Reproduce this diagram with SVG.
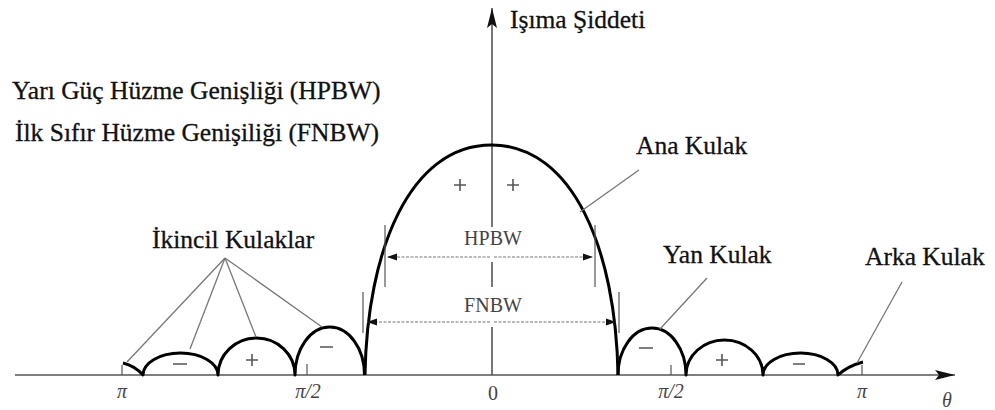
<svg xmlns="http://www.w3.org/2000/svg" width="995" height="410" viewBox="0 0 995 410">
<style>
.lbl{font-family:"Liberation Serif","Times New Roman",serif;font-size:25.5px;fill:#111;stroke:#111;stroke-width:0.3}
.dim{font-family:"Liberation Serif","Times New Roman",serif;font-size:20px;fill:#444;text-anchor:middle}
.tk{font-family:"Liberation Serif","Times New Roman",serif;font-size:20px;font-style:italic;fill:#444;text-anchor:middle}
.axis{stroke:#555;stroke-width:1.6;fill:none}
.curve{stroke:#000;stroke-width:3;fill:none;stroke-linejoin:round}
.lead{stroke:#777;stroke-width:1.3;fill:none}
.dl{stroke:#777;stroke-width:1.1;stroke-dasharray:3 1.5;fill:none}
.tick{stroke:#555;stroke-width:1.2;fill:none}
.sgn{stroke:#555;stroke-width:1.6;fill:none}
</style>
<defs>
<marker id="ah" viewBox="0 0 10 10" refX="10" refY="5" markerWidth="10" markerHeight="10" markerUnits="userSpaceOnUse" orient="auto">
<path d="M0,1.5 L10,5 L0,8.5 Z" fill="#111"/>
</marker>
<marker id="axh" viewBox="0 0 20 10" refX="20" refY="5" markerWidth="20" markerHeight="10" markerUnits="userSpaceOnUse" orient="auto">
<path d="M0,0 L20,5 L0,10 L4,5 Z" fill="#111"/>
</marker>
</defs>
<rect width="995" height="410" fill="#fff"/>

<g id="axes">
<line class="axis" x1="15" y1="375" x2="955" y2="375" marker-end="url(#axh)"/>
<line class="axis" x1="492" y1="375" x2="492" y2="327"/>
<line class="axis" x1="492" y1="287" x2="492" y2="262"/>
<line class="axis" x1="492" y1="227" x2="492" y2="8" marker-end="url(#axh)"/>
<line class="tick" x1="122" y1="375" x2="122" y2="365"/>
<line class="tick" x1="307" y1="375" x2="307" y2="364"/>
<line class="tick" x1="671" y1="375" x2="671" y2="365"/>
<line class="tick" x1="862" y1="375" x2="862" y2="365"/>
</g>

<g id="tick-labels">
<text class="tk" x="122" y="398">π</text>
<text class="tk" x="308" y="398">π/2</text>
<text class="tk" x="493" y="400" style="font-style:normal">0</text>
<text class="tk" x="671" y="398">π/2</text>
<text class="tk" x="862" y="398">π</text>
<text class="tk" x="947" y="407">θ</text>
</g>

<g id="main-lobe">
<path class="curve" d="M365,375 C367,250 410,145 491.5,145 C573,145 616,250 618,375"/>
<path class="sgn" d="M454,185 h12 M460,179 v12 M507,185 h12 M513,179 v12"/>
</g>

<g id="secondary-lobes-left">
<path class="curve" d="M123,363 Q135,366 143,375 A37.5,22 0 0 1 218,375 A38.5,37 0 0 1 295,375 A34.75,48 0 0 1 364.5,375"/>
<path class="sgn" d="M173,364 h14 M246,360 h12 M252,354 v12 M320,347 h13"/>
</g>

<g id="secondary-lobes-right">
<path class="curve" d="M618,375 A34,47 0 0 1 686,375 A38.5,35 0 0 1 763,375 A37.5,22 0 0 1 838,375 Q848,366 863,362"/>
<path class="sgn" d="M639,348 h14 M716,360 h12 M722,354 v12 M793,364 h12"/>
</g>

<g id="beamwidths">
<line class="tick" x1="385" y1="225" x2="385" y2="287"/>
<line class="tick" x1="595" y1="225" x2="595" y2="287"/>
<line class="dl" x1="490" y1="257" x2="387" y2="257" marker-end="url(#ah)"/>
<line class="dl" x1="494" y1="257" x2="593" y2="257" marker-end="url(#ah)"/>
<text class="dim" x="493" y="245">HPBW</text>
<line class="tick" x1="363" y1="292" x2="363" y2="333"/>
<line class="tick" x1="619" y1="292" x2="619" y2="333"/>
<line class="dl" x1="490" y1="322" x2="367" y2="322" marker-end="url(#ah)"/>
<line class="dl" x1="494" y1="322" x2="616" y2="322" marker-end="url(#ah)"/>
<text class="dim" x="493" y="312">FNBW</text>
</g>

<g id="connectors">
<line class="lead" x1="639" y1="170" x2="580" y2="212"/>
<line class="lead" x1="225" y1="258" x2="127" y2="362"/>
<line class="lead" x1="225" y1="258" x2="190" y2="349"/>
<line class="lead" x1="225" y1="258" x2="256" y2="337"/>
<line class="lead" x1="225" y1="258" x2="322" y2="327"/>
<line class="lead" x1="707" y1="278" x2="660" y2="329"/>
<line class="lead" x1="902" y1="282" x2="857" y2="363"/>
</g>

<g id="labels">
<text id="y-axis-label" class="lbl" x="510" y="28">Işıma Şiddeti</text>
<text id="legend-hpbw" class="lbl" x="12" y="98.5">Yarı Güç Hüzme Genişliği (HPBW)</text>
<text id="legend-fnbw" class="lbl" x="15" y="141">İlk Sıfır Hüzme Genişiliği (FNBW)</text>
<text id="ana-kulak" class="lbl" x="636" y="154">Ana Kulak</text>
<text id="ikincil-kulaklar" class="lbl" x="152" y="248">İkincil Kulaklar</text>
<text id="yan-kulak" class="lbl" x="663" y="263">Yan Kulak</text>
<text id="arka-kulak" class="lbl" x="865" y="265">Arka Kulak</text>
</g>
</svg>
